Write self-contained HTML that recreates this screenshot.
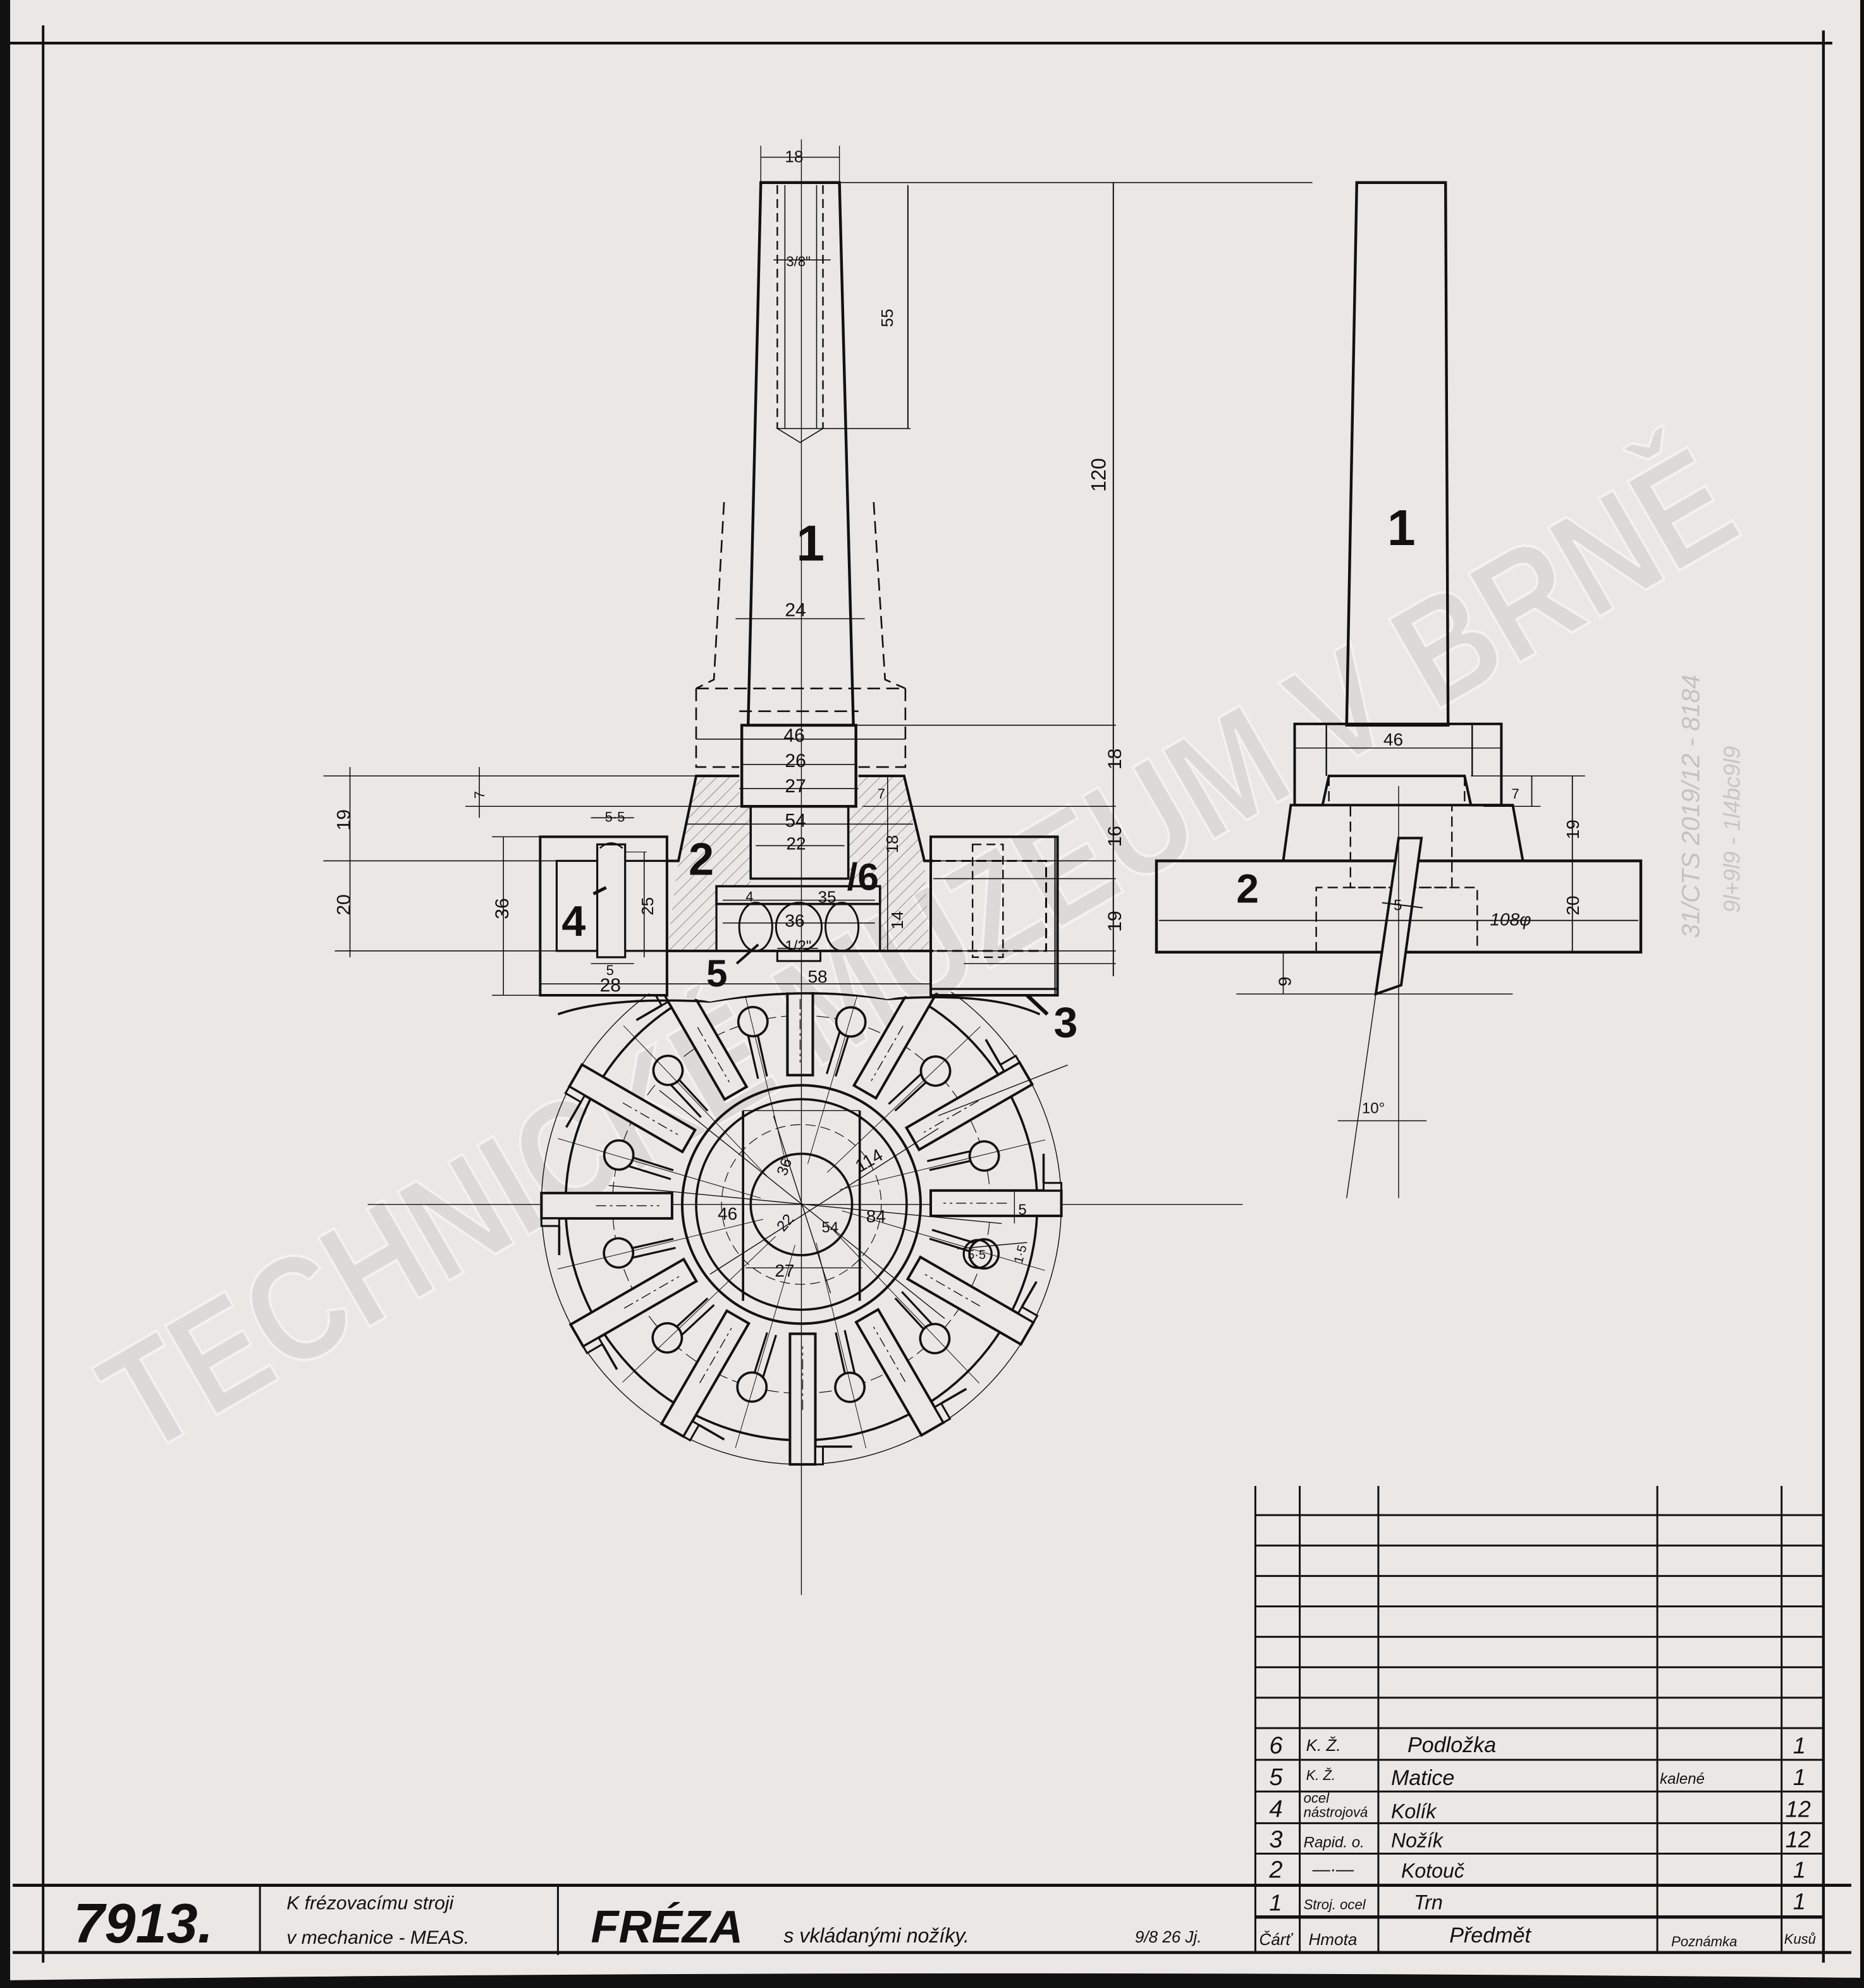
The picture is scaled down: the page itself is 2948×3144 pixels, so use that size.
<!DOCTYPE html>
<html><head><meta charset="utf-8"><style>
html,body{margin:0;padding:0;background:#ebe7e5;}
svg{display:block}
text{font-family:"Liberation Sans",sans-serif;fill:#111;}
.h{font-style:italic}
</style></head><body>
<svg width="2948" height="3144" viewBox="0 0 1470 1568" preserveAspectRatio="none" xmlns="http://www.w3.org/2000/svg">
<defs>
<pattern id="hat" patternUnits="userSpaceOnUse" width="7" height="7" patternTransform="rotate(45)">
<line x1="0" y1="0" x2="0" y2="7" stroke="#555" stroke-width="0.6"/></pattern>
<clipPath id="cv"><path d="M250 800 Q460 770 560 790 Q632 776 700 788 Q800 770 1000 800 L1000 1300 L250 1300 Z"/></clipPath>
<g id="seg" fill="#ebe7e5" stroke="#111">
<rect x="427" y="941" width="103" height="20" stroke-width="2"/>
<rect x="427" y="961" width="14" height="6" stroke-width="1.5"/>
<line x1="441" y1="967" x2="441" y2="990" stroke-width="1.8"/>
<line x1="470" y1="951" x2="520" y2="951" stroke-width="0.7" stroke-dasharray="8 3 2 3"/>
<line x1="480" y1="907" x2="531" y2="923" stroke-width="1.6"/>
<line x1="477" y1="914" x2="529" y2="930" stroke-width="1.6"/>
<circle cx="488" cy="911" r="11.5" stroke-width="1.8"/>
<line x1="440" y1="898" x2="600" y2="945" stroke-width="0.5"/>
</g>
</defs>
<rect width="1470" height="1568" fill="#ebe7e5"/>
<!-- edges -->
<rect x="0" y="0" width="8" height="1568" fill="#111"/>
<rect x="1467" y="0" width="3" height="1568" fill="#111"/>
<path d="M0 1568 L0 1562 Q700 1552 1470 1560 L1470 1568Z" fill="#111"/>
<!-- watermark -->
<text x="0" y="0" transform="translate(112,1150) rotate(-30)" font-size="118" font-weight="bold" textLength="1460" lengthAdjust="spacingAndGlyphs" style="fill:#dad7d6;opacity:0.85;stroke:#f6f4f3;stroke-width:2">TECHNICKÉ MUZEUM V BRNĚ</text>
<text transform="translate(1340,740) rotate(-90)" font-size="20" style="fill:#c4c1c0" class="h">31/CTS 2019/12 - 8184</text>
<text transform="translate(1372,720) rotate(-90)" font-size="18" style="fill:#c8c5c4" class="h">9l+9l9 - 1l4bc9l9</text>
<!-- frame -->
<g stroke="#111" fill="none">
<line x1="34" y1="20" x2="34" y2="1548" stroke-width="2"/>
<line x1="0" y1="34" x2="1445" y2="34" stroke-width="2.2"/>
<line x1="1438" y1="24" x2="1438" y2="1548" stroke-width="2.2"/>
<line x1="10" y1="1487" x2="1460" y2="1487" stroke-width="2.4"/>
<line x1="10" y1="1540" x2="1460" y2="1540" stroke-width="2.4"/>
<line x1="205" y1="1487" x2="205" y2="1540" stroke-width="1.5"/>
<line x1="440" y1="1487" x2="440" y2="1542" stroke-width="1.5"/>
<g stroke-width="1.5">
<line x1="990" y1="1172" x2="990" y2="1540"/>
<line x1="1025" y1="1172" x2="1025" y2="1540"/>
<line x1="1087" y1="1172" x2="1087" y2="1540"/>
<line x1="1307" y1="1172" x2="1307" y2="1540"/>
<line x1="1405" y1="1172" x2="1405" y2="1540"/>
<line x1="990" y1="1195" x2="1438" y2="1195"/>
<line x1="990" y1="1219" x2="1438" y2="1219"/>
<line x1="990" y1="1243" x2="1438" y2="1243"/>
<line x1="990" y1="1267" x2="1438" y2="1267"/>
<line x1="990" y1="1291" x2="1438" y2="1291"/>
<line x1="990" y1="1315" x2="1438" y2="1315"/>
<line x1="990" y1="1339" x2="1438" y2="1339"/>
<line x1="990" y1="1363" x2="1438" y2="1363"/>
<line x1="990" y1="1388" x2="1438" y2="1388"/>
<line x1="990" y1="1413" x2="1438" y2="1413"/>
<line x1="990" y1="1438" x2="1438" y2="1438"/>
<line x1="990" y1="1462" x2="1438" y2="1462"/>
<line x1="990" y1="1512" x2="1438" y2="1512" stroke-width="2.6"/>
</g>
</g>
<g class="h">
<text x="1001" y="1383" font-size="19">6</text><text x="1030" y="1381" font-size="13">K. Ž.</text><text x="1110" y="1382" font-size="17">Podložka</text><text x="1414" y="1383" font-size="18">1</text>
<text x="1001" y="1408" font-size="19">5</text><text x="1030" y="1404" font-size="11">K. Ž.</text><text x="1097" y="1408" font-size="17">Matice</text><text x="1309" y="1407" font-size="12">kalené</text><text x="1414" y="1408" font-size="18">1</text>
<text x="1001" y="1433" font-size="19">4</text><text x="1028" y="1422" font-size="11">ocel</text><text x="1028" y="1433" font-size="11">nástrojová</text><text x="1097" y="1434" font-size="16">Kolík</text><text x="1408" y="1433" font-size="18">12</text>
<text x="1001" y="1457" font-size="19">3</text><text x="1028" y="1457" font-size="12">Rapid. o.</text><text x="1097" y="1457" font-size="16">Nožík</text><text x="1408" y="1457" font-size="18">12</text>
<text x="1001" y="1481" font-size="19">2</text><text x="1035" y="1479" font-size="14">—·—</text><text x="1105" y="1481" font-size="16">Kotouč</text><text x="1414" y="1481" font-size="18">1</text>
<text x="1001" y="1507" font-size="18">1</text><text x="1028" y="1506" font-size="11">Stroj. ocel</text><text x="1115" y="1506" font-size="16">Trn</text><text x="1414" y="1506" font-size="18">1</text>
<text x="993" y="1534" font-size="13">Čárť</text><text x="1032" y="1534" font-size="13">Hmota</text><text x="1143" y="1532" font-size="17">Předmět</text><text x="1318" y="1535" font-size="11">Poznámka</text><text x="1407" y="1533" font-size="11">Kusů</text>
</g>
<text x="58" y="1532" font-size="44" font-weight="bold" class="h">7913.</text>
<text x="226" y="1506" font-size="15" class="h">K frézovacímu stroji</text>
<text x="226" y="1533" font-size="15" class="h">v mechanice - MEAS.</text>
<text x="466" y="1532" font-size="36" font-weight="bold" class="h">FRÉZA</text>
<text x="618" y="1532" font-size="16" class="h">s vkládanými nožíky.</text>
<text x="895" y="1532" font-size="13" class="h">9/8 26 Jj.</text>

<!-- ===== CIRCULAR VIEW (clipped) ===== -->
<g clip-path="url(#cv)">
<g fill="none" stroke="#111">
<line x1="290" y1="950" x2="980" y2="950" stroke-width="0.7"/>
<circle cx="632" cy="950" r="205" stroke-width="0.7"/>
<circle cx="632" cy="950" r="186" stroke-width="1.8"/>
<circle cx="632" cy="950" r="149" stroke-width="0.6" stroke-dasharray="10 4"/>
</g>
<use href="#seg"/>
<use href="#seg" transform="rotate(30 632 950)"/>
<use href="#seg" transform="rotate(60 632 950)"/>
<use href="#seg" transform="rotate(90 632 950)"/>
<use href="#seg" transform="rotate(120 632 950)"/>
<use href="#seg" transform="rotate(150 632 950)"/>
<use href="#seg" transform="rotate(180 632 950)"/>
<use href="#seg" transform="rotate(210 632 950)"/>
<use href="#seg" transform="rotate(240 632 950)"/>
<use href="#seg" transform="rotate(270 632 950)"/>
<use href="#seg" transform="rotate(300 632 950)"/>
<use href="#seg" transform="rotate(330 632 950)"/>
<path d="M440 800 Q480 786 560 790 Q632 778 700 788 Q780 782 820 800" fill="none" stroke="#111" stroke-width="1.8"/>
</g>
<g fill="none" stroke="#111">
<circle cx="632" cy="950" r="94" stroke-width="2"/>
<circle cx="632" cy="950" r="83" stroke-width="1.8"/>
<circle cx="632" cy="950" r="63" stroke-width="0.6" stroke-dasharray="8 4"/>
<circle cx="632" cy="950" r="40" stroke-width="1.8"/>
<line x1="586" y1="876" x2="586" y2="1026" stroke-width="1.8"/>
<line x1="678" y1="876" x2="678" y2="1026" stroke-width="1.8"/>
<line x1="586" y1="876" x2="678" y2="876" stroke-width="0.7"/>
<g stroke-width="0.7">
<line x1="520" y1="860" x2="745" y2="1040"/><line x1="560" y1="1005" x2="740" y2="890"/>
<line x1="480" y1="935" x2="790" y2="965"/><line x1="610" y1="880" x2="655" y2="1020"/>
<line x1="588" y1="1000" x2="680" y2="1000"/><line x1="740" y1="880" x2="842" y2="840"/>
<line x1="755" y1="985" x2="810" y2="980"/>
<line x1="800" y1="940" x2="800" y2="965"/>
</g>
<circle cx="771" cy="989" r="11" stroke-width="1.6"/>
</g>
<g font-size="14">
<text transform="translate(620,928) rotate(-70)" font-size="12">36</text>
<text transform="translate(678,925) rotate(-30)">114</text>
<text x="566" y="962">46</text><text x="683" y="964">84</text>
<text transform="translate(618,972) rotate(-50)" font-size="12">22</text>
<text x="648" y="972" font-size="12">54</text>
<text x="611" y="1007">27</text><text x="803" y="958" font-size="12">5</text>
<text x="763" y="993" font-size="10">5·5</text>
<text transform="translate(806,997) rotate(-75)" font-size="10">1·5</text>
</g>

<!-- ===== FRONT VIEW ===== -->
<g fill="none" stroke="#111">
<line x1="632" y1="110" x2="632" y2="1258" stroke-width="0.7"/>
<path d="M600 144 L662 144 L673 572 L590 572 Z" stroke-width="2.2"/>
<g stroke-width="1.2" stroke-dasharray="7 4"><line x1="613" y1="146" x2="613" y2="338"/><line x1="649" y1="146" x2="649" y2="338"/></g>
<line x1="619" y1="146" x2="619" y2="338" stroke-width="0.8"/><line x1="644" y1="146" x2="644" y2="338" stroke-width="0.8"/>
<path d="M613 338 L649 338 L631 349 Z" stroke-width="0.8"/>
<line x1="600" y1="124" x2="662" y2="124" stroke-width="0.8"/><line x1="600" y1="115" x2="600" y2="144" stroke-width="0.7"/><line x1="662" y1="115" x2="662" y2="144" stroke-width="0.7"/>
<line x1="610" y1="205" x2="655" y2="205" stroke-width="0.8"/>
<line x1="662" y1="144" x2="1035" y2="144" stroke-width="0.8"/>
<line x1="649" y1="338" x2="718" y2="338" stroke-width="0.8"/>
<line x1="716" y1="146" x2="716" y2="338" stroke-width="1"/>
<line x1="878" y1="144" x2="878" y2="770" stroke-width="1"/>
<g stroke-width="1.3" stroke-dasharray="10 5"><path d="M571 396 L563 536 L549 543"/><path d="M689 396 L698 536 L714 543"/>
<path d="M549 543 L549 605 L583 605"/><path d="M714 543 L714 605 L677 605"/><line x1="549" y1="543" x2="714" y2="543"/><line x1="583" y1="561" x2="677" y2="561"/></g>
<line x1="580" y1="488" x2="682" y2="488" stroke-width="0.8"/>
<rect x="585" y="572" width="90" height="64" stroke-width="2.2"/>
<line x1="549" y1="583" x2="714" y2="583" stroke-width="0.8"/>
<line x1="585" y1="603" x2="675" y2="603" stroke-width="0.8"/>
<line x1="583" y1="622" x2="677" y2="622" stroke-width="0.8"/>
<line x1="673" y1="572" x2="880" y2="572" stroke-width="0.8"/>
<line x1="680" y1="636" x2="880" y2="636" stroke-width="0.8"/>
<path d="M549 612 L583 612 L583 636 L592 636 L592 699 L565 699 L565 750 L526 750 L535 679 Z" fill="url(#hat)" stroke="none"/>
<path d="M713 612 L677 612 L677 636 L669 636 L669 699 L694 699 L694 750 L733 750 L729 679 Z" fill="url(#hat)" stroke="none"/>
<path d="M583 612 L549 612 L535 679 L526 679" stroke-width="2"/>
<path d="M677 612 L713 612 L729 679 L736 679" stroke-width="2"/>
<rect x="592" y="636" width="77" height="57" stroke-width="1.8"/>
<rect x="565" y="699" width="129" height="14" stroke-width="1.8"/>
<rect x="565" y="713" width="129" height="37" stroke-width="1.6"/>
<g stroke-width="1.5"><ellipse cx="596" cy="731" rx="13" ry="19"/><ellipse cx="630" cy="731" rx="18" ry="19"/><ellipse cx="664" cy="731" rx="13" ry="19"/></g>
<rect x="613" y="750" width="34" height="8" stroke-width="1.5"/>
<line x1="526" y1="750" x2="736" y2="750" stroke-width="2"/>
<line x1="540" y1="650" x2="720" y2="650" stroke-width="0.8"/>
<line x1="596" y1="667" x2="666" y2="667" stroke-width="0.8"/>
<line x1="570" y1="710" x2="690" y2="710" stroke-width="0.8"/>
<line x1="570" y1="728" x2="690" y2="728" stroke-width="0.8"/>
<line x1="613" y1="748" x2="645" y2="748" stroke-width="0.8"/>
<rect x="426" y="660" width="100" height="125" stroke-width="2"/>
<rect x="439" y="679" width="87" height="71" stroke-width="1.6"/>
<rect x="471" y="666" width="22" height="89" stroke-width="1.6" fill="#ebe7e5"/>
<path d="M473 669 Q482 661 491 669" stroke-width="1.2"/>
<line x1="508" y1="672" x2="508" y2="755" stroke-width="0.8"/>
<line x1="493" y1="672" x2="510" y2="672" stroke-width="0.6"/>
<rect x="734" y="660" width="100" height="125" stroke-width="2"/>
<path d="M734 679 L825 679 L825 750 L734 750" stroke-width="1.5" stroke-dasharray="8 4"/>
<rect x="767" y="666" width="24" height="89" stroke-width="1.2" stroke-dasharray="7 4"/>
<line x1="734" y1="780" x2="834" y2="780" stroke-width="1.6"/>
<line x1="832" y1="660" x2="832" y2="785" stroke-width="1"/>
<g stroke-width="0.8">
<line x1="255" y1="612" x2="548" y2="612"/><line x1="367" y1="636" x2="585" y2="636"/>
<line x1="255" y1="679" x2="439" y2="679"/><line x1="264" y1="750" x2="439" y2="750"/>
<line x1="388" y1="660" x2="426" y2="660"/><line x1="388" y1="785" x2="426" y2="785"/>
<line x1="276" y1="605" x2="276" y2="755"/><line x1="397" y1="660" x2="397" y2="785"/>
<line x1="378" y1="605" x2="378" y2="645"/>
<line x1="426" y1="776" x2="734" y2="776"/>
<line x1="466" y1="760" x2="500" y2="760"/>
<line x1="466" y1="645" x2="500" y2="645"/>
<line x1="700" y1="612" x2="700" y2="750"/>
<line x1="736" y1="679" x2="880" y2="679"/><line x1="736" y1="750" x2="880" y2="750"/><line x1="760" y1="760" x2="880" y2="760"/>
<line x1="736" y1="693" x2="880" y2="693"/>
</g>
<line x1="810" y1="785" x2="826" y2="800" stroke-width="3"/>
<line x1="581" y1="760" x2="598" y2="745" stroke-width="2"/>
<line x1="468" y1="705" x2="478" y2="700" stroke-width="2.5"/>
</g>
<g font-size="13">
<text x="619" y="128">18</text><text x="620" y="210" font-size="11">3/8"</text>
<text transform="translate(704,258) rotate(-90)">55</text>
<text transform="translate(872,388) rotate(-90)" font-size="16">120</text>
<text x="619" y="486" font-size="15">24</text><text x="618" y="585" font-size="15">46</text>
<text x="619" y="605" font-size="15">26</text><text x="619" y="625" font-size="15">27</text>
<text x="619" y="652" font-size="15">54</text><text x="620" y="670" font-size="14">22</text>
<text transform="translate(708,673) rotate(-90)">18</text><text transform="translate(712,733) rotate(-90)">14</text>
<text x="645" y="712">35</text><text x="588" y="711" font-size="11">4</text>
<text x="619" y="731" font-size="14">36</text><text x="619" y="750" font-size="12">1/2"</text>
<text x="637" y="775" font-size="14">58</text><text x="473" y="782" font-size="15">28</text>
<text x="478" y="769" font-size="11">5</text><text x="477" y="648" font-size="11">5·5</text>
<text transform="translate(515,722) rotate(-90)">25</text>
<text transform="translate(401,725) rotate(-90)" font-size="15">36</text>
<text transform="translate(382,630) rotate(-90)" font-size="11">7</text><text x="692" y="630" font-size="11">7</text>
<text transform="translate(276,655) rotate(-90)" font-size="15">19</text>
<text transform="translate(276,722) rotate(-90)" font-size="15">20</text>
<text transform="translate(884,607) rotate(-90)" font-size="15">18</text>
<text transform="translate(884,668) rotate(-90)" font-size="15">16</text>
<text transform="translate(884,735) rotate(-90)" font-size="15">19</text>
</g>
<g font-weight="bold">
<text x="628" y="442" font-size="40">1</text>
<text x="543" y="690" font-size="36">2</text>
<text x="443" y="738" font-size="34">4</text>
<text x="557" y="778" font-size="30">5</text>
<text x="668" y="702" font-size="30">/6</text>
<text x="831" y="818" font-size="34">3</text>
</g>

<!-- ===== SIDE VIEW ===== -->
<g fill="none" stroke="#111">
<path d="M1070 144 L1140 144 L1142 572 L1062 572 Z" stroke-width="2.2"/>
<path d="M1021 571 L1184 571 L1184 635 L1160 635 L1155 612 L1048 612 L1043 635 L1021 635 Z" stroke-width="2"/>
<line x1="1046" y1="571" x2="1046" y2="612" stroke-width="1.2"/><line x1="1161" y1="571" x2="1161" y2="612" stroke-width="1.2"/>
<path d="M1018 635 L1193 635 L1201 679 L1012 679 Z" stroke-width="2"/>
<rect x="912" y="679" width="382" height="72" stroke-width="2.2"/>
<g stroke-width="1.2" stroke-dasharray="8 4"><path d="M1065 636 L1065 700 L1145 700 L1145 636"/><path d="M1038 751 L1038 700 L1165 700 L1165 751"/><line x1="1048" y1="612" x2="1048" y2="636"/><line x1="1155" y1="612" x2="1155" y2="636"/></g>
<path d="M1103 661 L1121 661 L1105 777 L1085 784 Z" fill="#ebe7e5" stroke-width="2"/>
<line x1="1103" y1="620" x2="1103" y2="945" stroke-width="0.7"/>
<line x1="1085" y1="784" x2="1062" y2="945" stroke-width="0.7"/>
<line x1="975" y1="784" x2="1193" y2="784" stroke-width="0.7"/>
<line x1="1012" y1="751" x2="1012" y2="784" stroke-width="0.8"/>
<line x1="914" y1="726" x2="1292" y2="726" stroke-width="0.9"/>
<line x1="1160" y1="612" x2="1250" y2="612" stroke-width="0.7"/>
<line x1="1170" y1="636" x2="1215" y2="636" stroke-width="0.7"/>
<line x1="1240" y1="612" x2="1240" y2="751" stroke-width="0.9"/>
<line x1="1208" y1="612" x2="1208" y2="636" stroke-width="0.9"/>
<line x1="1055" y1="884" x2="1125" y2="884" stroke-width="0.8"/>
<line x1="1090" y1="712" x2="1122" y2="716" stroke-width="1"/>
<line x1="1021" y1="590" x2="1184" y2="590" stroke-width="0.8"/>
</g>
<text x="1094" y="430" font-size="40" font-weight="bold">1</text>
<text x="975" y="712" font-size="32" font-weight="bold">2</text>
<g font-size="14">
<text x="1091" y="588">46</text><text x="1192" y="630" font-size="11">7</text>
<text transform="translate(1245,662) rotate(-90)">19</text><text transform="translate(1245,722) rotate(-90)">20</text>
<text x="1175" y="730" class="h">108φ</text><text x="1099" y="718" font-size="12">5</text>
<text transform="translate(1018,778) rotate(-90)">9</text><text x="1074" y="878" font-size="12">10°</text>
</g>
</svg>
</body></html>
